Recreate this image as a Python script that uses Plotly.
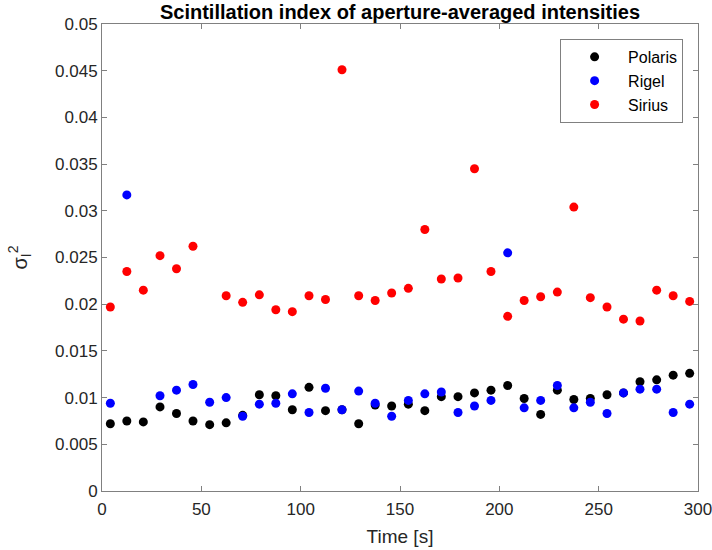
import plotly.graph_objects as go

time_s = [4.2, 12.5, 20.8, 29.2, 37.5, 45.8, 54.2, 62.5, 70.8, 79.2, 87.5, 95.8,
          104.2, 112.5, 120.8, 129.2, 137.5, 145.8, 154.2, 162.5, 170.8, 179.2, 187.5, 195.8,
          204.2, 212.5, 220.8, 229.2, 237.5, 245.8, 254.2, 262.5, 270.8, 279.2, 287.5, 295.8]

polaris = [0.0072, 0.0075, 0.0074, 0.0090, 0.0083, 0.0075, 0.0071, 0.0073, 0.0081, 0.0103, 0.0102, 0.0087,
           0.0111, 0.0086, 0.0087, 0.0072, 0.0092, 0.0091, 0.0093, 0.0086, 0.0101, 0.0101, 0.0105, 0.0108,
           0.0113, 0.0099, 0.0082, 0.0108, 0.0098, 0.0099, 0.0103, 0.0105, 0.0117, 0.0119, 0.0124, 0.0126]

rigel = [0.0094, 0.0317, None, 0.0102, 0.0108, 0.0114, 0.0095, 0.0100, 0.0080, 0.0093, 0.0094, 0.0104,
         0.0084, 0.0110, 0.0087, 0.0107, 0.0094, 0.0080, 0.0097, 0.0104, 0.0106, 0.0084, 0.0091, 0.0097,
         0.0255, 0.0089, 0.0097, 0.0113, 0.0089, 0.0095, 0.0083, 0.0105, 0.0109, 0.0109, 0.0084, 0.0093]

sirius = [0.0197, 0.0235, 0.0215, 0.0252, 0.0238, 0.0262, None, 0.0209, 0.0202, 0.0210, 0.0194, 0.0192,
          0.0209, 0.0205, 0.0451, 0.0209, 0.0204, 0.0212, 0.0217, 0.0280, 0.0227, 0.0228, 0.0345, 0.0235,
          0.0187, 0.0204, 0.0208, 0.0213, 0.0304, 0.0207, 0.0197, 0.0184, 0.0182, 0.0215, 0.0209, 0.0203]

series = [("Polaris", polaris, "#000000"), ("Rigel", rigel, "#0000FF"), ("Sirius", sirius, "#FF0000")]

FONT = "Liberation Sans, Arial, sans-serif"

fig = go.Figure()
for name, vals, col in series:
    fig.add_trace(go.Scatter(x=time_s, y=vals, mode="markers", name=name,
                             marker=dict(color=col, size=9, line=dict(width=0))))

axis_common = dict(showgrid=False, zeroline=False, showline=True, linecolor="#808080", linewidth=1,
                   mirror="ticks", ticks="inside", ticklen=5, tickcolor="#808080",
                   ticklabeloverflow="allow",
                   tickfont=dict(family=FONT, size=17, color="#262626"))

fig.update_layout(
    width=712, height=550,
    margin=dict(l=102, r=14, t=24, b=59, autoexpand=False),
    paper_bgcolor="white", plot_bgcolor="white",
    font=dict(family=FONT, color="#262626"),
    title=dict(text="<b>Scintillation index of aperture-averaged intensities</b>",
               x=0.5618, xanchor="center", y=0.979, yanchor="middle",
               font=dict(family=FONT, size=20, color="#000000")),
    xaxis=dict(range=[0, 300], tickmode="linear", tick0=0, dtick=50, ticklabelstandoff=3,
               title=dict(text="Time [s]", font=dict(family=FONT, size=19, color="#262626"), standoff=11),
               **axis_common),
    yaxis=dict(range=[0, 0.05], tickmode="linear", tick0=0, dtick=0.005,
               title=dict(text="σ<sub>I</sub><sup>2</sup>", font=dict(family=FONT, size=20, color="#262626"), standoff=22),
               **axis_common),
    legend=dict(x=0.975, xanchor="right", y=0.968, yanchor="top",
                bgcolor="white", bordercolor="#808080", borderwidth=1,
                font=dict(family=FONT, size=16, color="#000000"),
                itemwidth=57, tracegroupgap=0),
    showlegend=True,
)

fig.write_html("out.html")
